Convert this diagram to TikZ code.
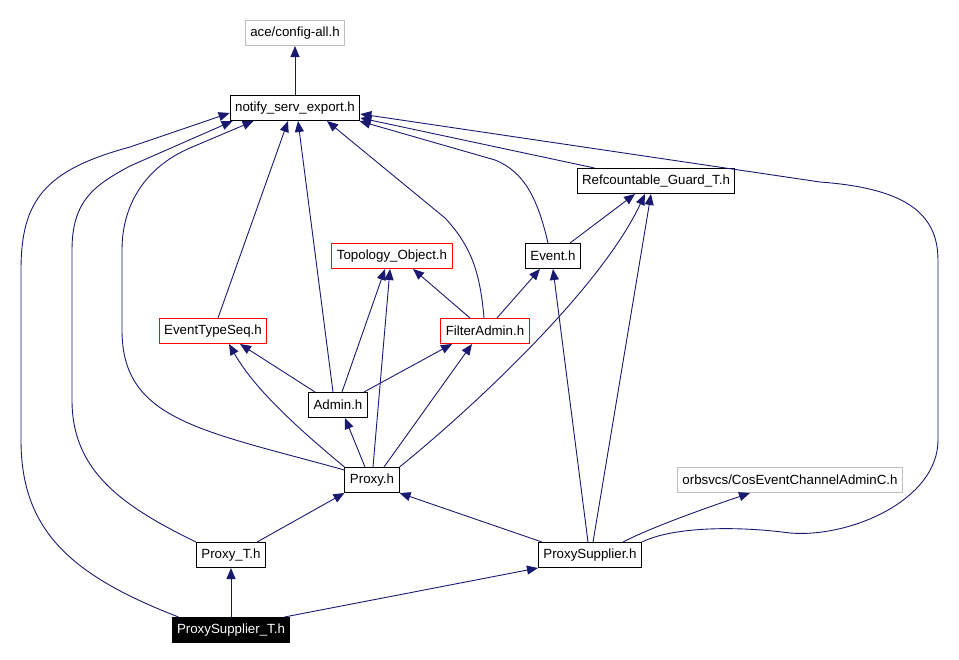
\documentclass[tikz,border=0pt]{standalone}
\usepackage{fontspec}
\setmainfont{Liberation Sans}
\usetikzlibrary{arrows.meta}
\definecolor{edgeblue}{HTML}{191970}
\definecolor{extgray}{HTML}{BFBFBF}
\begin{document}
\begin{tikzpicture}
[x=1pt,y=-1pt,
every node/.style={draw,rectangle,minimum height=25pt,inner xsep=5pt,inner ysep=0pt,line width=1pt,font=\fontsize{13.3}{16}\selectfont},
hdr/.style={draw=black},
ext/.style={draw=extgray},
bad/.style={draw=red},
cur/.style={draw=black,fill=black,text=white},
edge/.style={draw=edgeblue,line width=0.9pt,-{Triangle[length=11pt,width=9pt]}}]
\useasboundingbox (0,0) rectangle (959,659);
\node[ext] (ace) at (295,33) {ace/config-all.h};
\node[hdr] (notify) at (295,108) {notify\_serv\_export.h};
\node[hdr] (ref) at (656,181) {Refcountable\_Guard\_T.h};
\node[bad] (topo) at (392,256) {Topology\_Object.h};
\node[hdr] (event) at (553,256) {Event.h};
\node[bad] (ets) at (213,331) {EventTypeSeq.h};
\node[bad] (filter) at (485,331) {FilterAdmin.h};
\node[hdr] (admin) at (338,405) {Admin.h};
\node[hdr] (proxy) at (372,480) {Proxy.h};
\node[ext] (cos) at (790,480) {orbsvcs/CosEventChannelAdminC.h};
\node[hdr] (proxyt) at (231,555) {Proxy\_T.h};
\node[hdr] (ps) at (590,555) {ProxySupplier.h};
\node[cur] (pst) at (231,630) {ProxySupplier\_T.h};
% top
\draw[edge] (notify) -- (ace);
\draw[edge] ([xshift=18pt]ref.north west) -- ([yshift=3pt]notify.south east);
\draw[edge] ([xshift=-5pt]event.north) .. controls (538,200) and (525,172) .. (495,160) -- ([xshift=-1pt]notify.south east);
\draw[edge] ([xshift=-11pt]event.north east) -- ([xshift=-21pt]ref.south);
% filter admin
\draw[edge] ([xshift=-1pt]filter.north) .. controls (480,270) and (470,245) .. (445,218) -- ([xshift=32pt]notify.south);
\draw[edge] ([xshift=-15pt]filter.north) -- ([xshift=21pt]topo.south);
\draw[edge] ([xshift=12pt]filter.north) -- ([xshift=-13pt]event.south);
% event type seq
\draw[edge] ([xshift=5pt]ets.north) -- ([xshift=-7pt]notify.south);
% admin
\draw[edge] ([xshift=-5pt]admin.north) -- ([xshift=3pt]notify.south);
\draw[edge] ([xshift=-23pt]admin.north) -- ([xshift=27pt]ets.south);
\draw[edge] ([xshift=4pt]admin.north) -- ([xshift=-7pt]topo.south);
\draw[edge] ([xshift=26pt]admin.north) -- ([xshift=-33pt]filter.south);
% proxy
\draw[edge] ([xshift=-7pt]proxy.north) -- ([xshift=7pt]admin.south);
\draw[edge] ([xshift=1pt]proxy.north) -- ([xshift=-2pt]topo.south);
\draw[edge] ([xshift=12pt]proxy.north) -- ([xshift=-13pt]filter.south);
\draw[edge] (proxy.north west) .. controls (300,430) and (255,390) .. ([xshift=16pt]ets.south);
\draw[edge] ([yshift=-3pt]proxy.north west) .. controls (200,430) and (122,420) .. (122,330) -- (122,250) .. controls (122,200) and (150,165) .. (190,148) -- ([xshift=24pt]notify.south west);
\draw[edge] (proxy.north east) .. controls (470,410) and (600,290) .. ([xshift=-11pt]ref.south);
% proxy_t
\draw[edge] ([xshift=-9pt]proxyt.north east) -- (proxy.south west);
\draw[edge] (proxyt.north west) .. controls (120,505) and (72,470) .. (72,400) -- (72,250) .. controls (72,200) and (95,185) .. (130,166) -- ([xshift=3pt]notify.south west);
% proxy supplier
\draw[edge] ([xshift=4pt]ps.north west) -- (proxy.south east);
\draw[edge] ([xshift=-2pt]ps.north) -- (event.south);
\draw[edge] ([xshift=3pt]ps.north) -- ([xshift=-5pt]ref.south);
\draw[edge] ([xshift=33pt]ps.north) .. controls (650,528) and (700,510) .. ([xshift=-40pt]cos.south);
\draw[edge] (ps.north east) .. controls (670,528) and (730,525) .. (790,533) .. controls (850,538) and (938,500) .. (938,440) -- (938,260) .. controls (938,210) and (900,188) .. (820,182) -- ([yshift=7pt]notify.south east);
% proxy supplier_t
\draw[edge] (pst.north) -- (proxyt.south);
\draw[edge] ([xshift=-6pt]pst.north east) -- (ps.south west);
\draw[edge] ([xshift=7pt]pst.north west) .. controls (70,575) and (21,530) .. (21,440) -- (21,270) .. controls (21,200) and (45,170) .. (130,147) -- ([yshift=-5pt]notify.west);
\end{tikzpicture}
\end{document}
